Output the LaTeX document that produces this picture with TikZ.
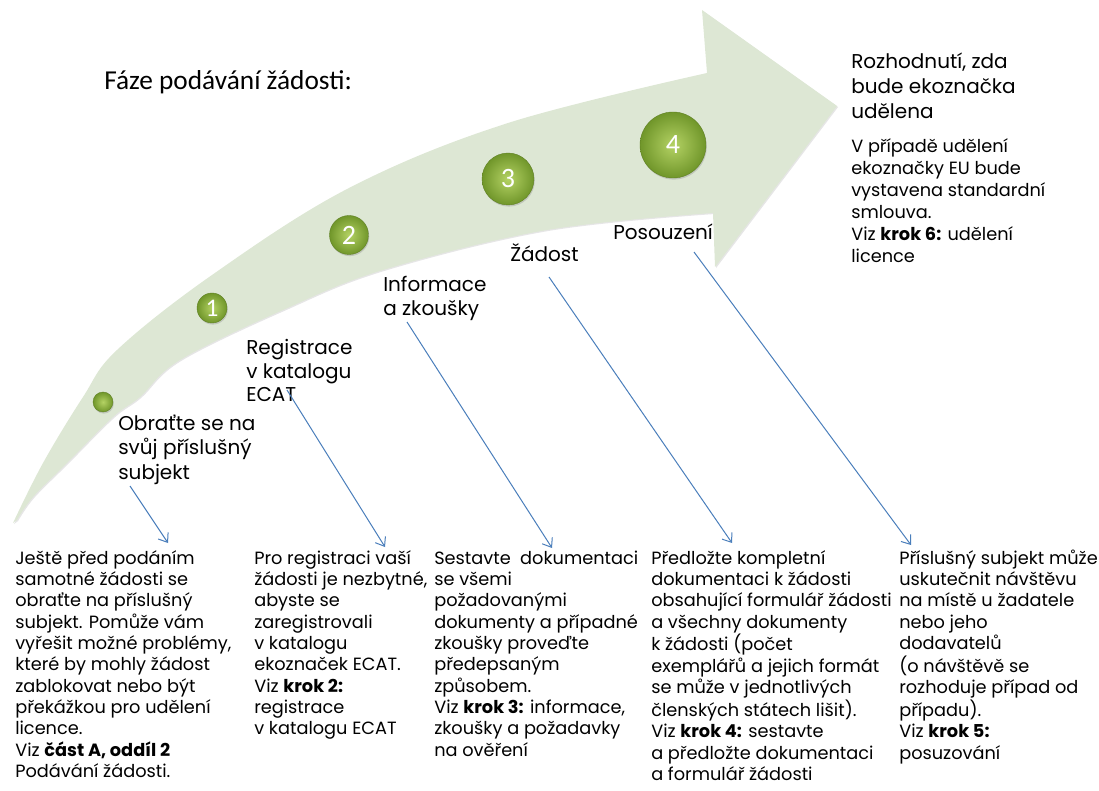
\documentclass[tikz,border=0pt]{standalone}
\usepackage{fontspec}
\setmainfont{Poppins}
\newfontfamily\headfont{Carlito}
\usetikzlibrary{arrows.meta,shadows}

\definecolor{bandgreen}{RGB}{221,231,212}
\definecolor{balllight}{RGB}{180,210,100}
\definecolor{balldark}{RGB}{112,150,42}
\definecolor{lineblue}{RGB}{74,126,187}

% lines of a text block, first baseline on the anchor
\newcommand{\textcol}[1]{\begin{tabular}[t]{@{}l@{}}#1\end{tabular}}

\tikzset{
  ball/.style={circle, inner sep=0pt, shading=radial, inner color=balllight, outer color=balldark,
    draw=balldark!85!black, line width=0.3pt, text=white,
    drop shadow={opacity=0.3, shadow xshift=0.6pt, shadow yshift=-1.2pt}},
  steplabel/.style={anchor=base west, inner sep=0pt, font=\fontsize{15}{17.6}\selectfont},
  bodytext/.style={anchor=base west, inner sep=0pt, font=\fontsize{13.3}{16}\selectfont},
  pointer/.style={draw=lineblue, line width=0.75pt, -{Straight Barb[length=6pt,width=9pt]}}
}

\begin{document}
\begin{tikzpicture}[x=0.75pt,y=-0.75pt]
  \useasboundingbox (0,0) rectangle (1099,791);
  % big curved arrow
  \fill [bandgreen, drop shadow={opacity=0.2, shadow xshift=0.8pt, shadow yshift=-0.8pt}]
    plot [smooth, tension=0.6] coordinates {(13,523) (43,463) (83,397) (117,350) (212,275) (349,188) (508,123) (707,73)}
    -- (702,10) -- (837,106) -- (715,267) -- (713,213)
    -- plot [smooth, tension=0.6] coordinates {(713,213) (547,230) (383,270) (283,310) (180,360) (140,397) (113,417) (67,463) (33,497) (17,520)}
    -- cycle;
  % title
  \node [anchor=base west, inner sep=0pt, font=\headfont\fontsize{20.5}{20.5}\selectfont] (title) at (104,90) {Fáze podávání žádosti:};
  % balls on the arrow
  \node [ball, minimum size=15pt] (b0) at (103,402) {};
  \node [ball, minimum size=22.5pt, font=\headfont\fontsize{19}{19}\selectfont] (b1) at (212,308) {1};
  \node [ball, minimum size=29.25pt, font=\headfont\fontsize{21}{21}\selectfont] (b2) at (349,235) {2};
  \node [ball, minimum size=39pt, font=\headfont\fontsize{21}{21}\selectfont] (b3) at (508,179) {3};
  \node [ball, minimum size=49.5pt, font=\headfont\fontsize{21}{21}\selectfont] (b4) at (673,145) {4};
  % step labels
  \node [steplabel, font=\fontsize{15}{18.5}\selectfont] (lab0) at (118,430) {\textcol{Obraťte se na\\svůj příslušný\\subjekt}};
  \node [steplabel] (lab1) at (246,355) {\textcol{Registrace\\v katalogu\\ECAT}};
  \node [steplabel] (lab2) at (383,292) {\textcol{Informace\\a zkoušky}};
  \node [steplabel] (lab3) at (510,262) {Žádost};
  \node [steplabel] (lab4) at (613,240) {Posouzení};
  % decision on the right
  \node [steplabel, font=\fontsize{15}{18.75}\selectfont] (lab5) at (851,69) {\textcol{Rozhodnutí, zda\\bude ekoznačka\\udělena}};
  \node [bodytext, font=\fontsize{13.3}{16.5}\selectfont] (txt5) at (851,153)
    {\textcol{V případě udělení\\ekoznačky EU bude\\vystavena standardní\\smlouva.\\Viz \textbf{krok 6:} udělení\\licence}};
  % texts at the bottom
  \node [bodytext] (txt0) at (15,564) {\textcol{Ještě před podáním\\samotné žádosti se\\obraťte na příslušný\\subjekt. Pomůže vám\\vyřešit možné problémy,\\které by mohly žádost\\zablokovat nebo být\\překážkou pro udělení\\licence.\\Viz \textbf{část A, oddíl 2}\\Podávání žádosti.}};
  \node [bodytext] (txt1) at (254,564) {\textcol{Pro registraci vaší\\žádosti je nezbytné,\\abyste se\\zaregistrovali\\v katalogu\\ekoznaček ECAT.\\Viz \textbf{krok 2:}\\registrace\\v katalogu ECAT}};
  \node [bodytext] (txt2) at (434,564) {\textcol{Sestavte\ \ dokumentaci\\se všemi\\požadovanými\\dokumenty a případné\\zkoušky proveďte\\předepsaným\\způsobem.\\Viz \textbf{krok 3:} informace,\\zkoušky a požadavky\\na ověření}};
  \node [bodytext] (txt3) at (651,564) {\textcol{Předložte kompletní\\dokumentaci k žádosti\\obsahující formulář žádosti\\a všechny dokumenty\\k žádosti (počet\\exemplářů a jejich formát\\se může v jednotlivých\\členských státech lišit).\\Viz \textbf{krok 4:} sestavte\\a předložte dokumentaci\\a formulář žádosti}};
  \node [bodytext] (txt4) at (899,564) {\textcol{Příslušný subjekt může\\uskutečnit návštěvu\\na místě u žadatele\\nebo jeho\\dodavatelů\\(o návštěvě se\\rozhoduje případ od\\případu).\\Viz \textbf{krok 5:}\\posuzování}};
  % pointers
  \coordinate (s0) at (130,486); \coordinate (e0) at (168,543);
  \coordinate (s1) at (287,390); \coordinate (e1) at (385,547);
  \coordinate (s2) at (407,322); \coordinate (e2) at (552,548);
  \coordinate (s3) at (549,277); \coordinate (e3) at (732,543);
  \coordinate (s4) at (694,252); \coordinate (e4) at (911,545);
  \draw [pointer] (s0) -- (e0);
  \draw [pointer] (s1) -- (e1);
  \draw [pointer] (s2) -- (e2);
  \draw [pointer] (s3) -- (e3);
  \draw [pointer] (s4) -- (e4);
\end{tikzpicture}
\end{document}
